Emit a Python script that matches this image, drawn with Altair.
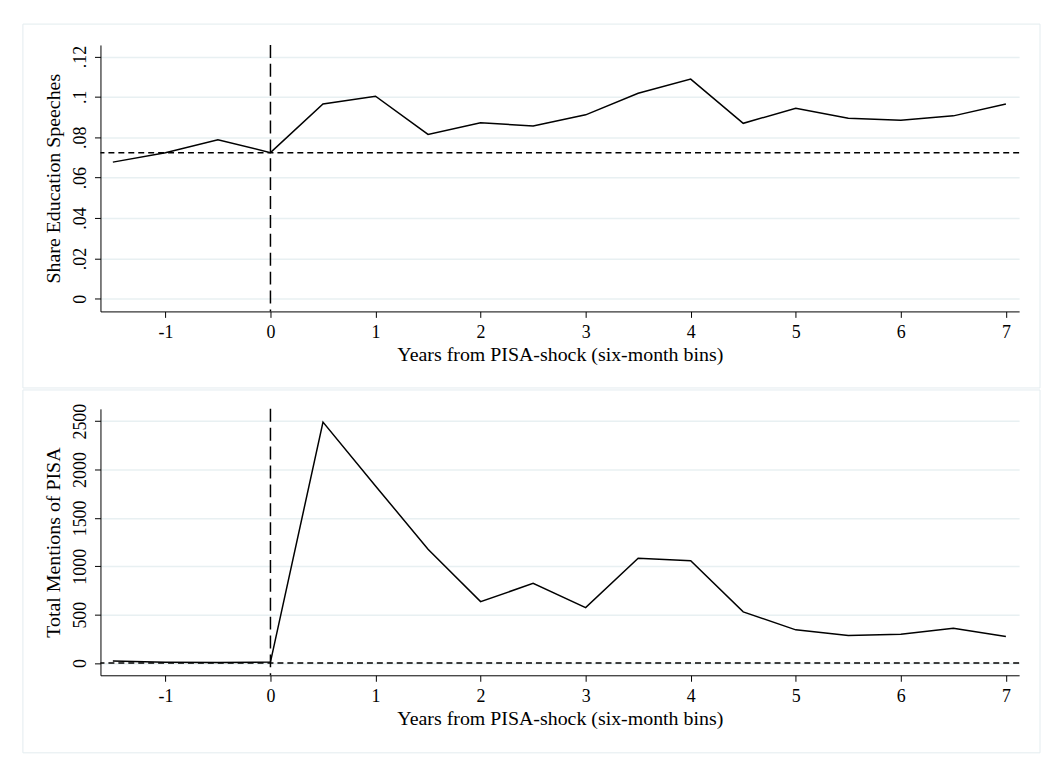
import altair as alt
import pandas as pd

# ---- data ----
years = [-1.5, -1, -0.5, 0, 0.5, 1, 1.5, 2, 2.5, 3, 3.5, 4, 4.5, 5, 5.5, 6, 6.5, 7]
share_edu = [0.0677, 0.0723, 0.0788, 0.0724, 0.0965, 0.1003, 0.0814, 0.0872, 0.0856,
             0.0911, 0.1018, 0.1088, 0.0869, 0.0944, 0.0894, 0.0884, 0.0906, 0.0965]
pisa_mentions = [20, 8, 5, 10, 2490, 1830, 1177, 635, 823, 573, 1084, 1057, 529,
                 343, 285, 298, 360, 275]
share_ref = [0.0723]
mentions_ref = [0]
shock_year = [0]
x_ticks = [-1, 0, 1, 2, 3, 4, 5, 6, 7]
share_ticks = [0, 0.02, 0.04, 0.06, 0.08, 0.1, 0.12]
mention_ticks = [0, 500, 1000, 1500, 2000, 2500]

df = pd.DataFrame({"year": years, "share": share_edu, "mentions": pisa_mentions})

X_TITLE = "Years from PISA-shock (six-month bins)"
X_DOMAIN = [-1.618, 7.126]
W, H = 924, 268
FRAME = "#e3ecef"


def panel(ycol, ytitle, ydomain, yticks, ylabel_expr, ref, fy, fy2):
    xscale = alt.Scale(domain=X_DOMAIN, nice=False, zero=False)
    yscale = alt.Scale(domain=ydomain, nice=False, zero=False)
    xaxis = alt.Axis(values=x_ticks, title=X_TITLE, labelExpr="'' + datum.value")
    yaxis = alt.Axis(values=yticks, title=ytitle, labelExpr=ylabel_expr)

    frame = alt.Chart(alt.Data(values=[{}])).mark_rect(
        filled=False, color=FRAME, strokeWidth=1
    ).encode(
        x=alt.value(-78), x2=alt.value(W + 21),
        y=alt.value(fy), y2=alt.value(fy2),
    )
    line = alt.Chart(df).mark_line(color="black", strokeWidth=1.5).encode(
        x=alt.X("year:Q", scale=xscale, axis=xaxis),
        y=alt.Y(f"{ycol}:Q", scale=yscale, axis=yaxis),
    )
    hrule = alt.Chart(alt.Data(values=[{}])).mark_rule(
        color="black", strokeWidth=1.5, strokeDash=[6, 4]
    ).encode(y=alt.datum(ref[0]))
    vrule = alt.Chart(alt.Data(values=[{}])).mark_rule(
        color="black", strokeWidth=1.5, strokeDash=[13, 6]
    ).encode(x=alt.datum(shock_year[0]))
    return alt.layer(frame, hrule, vrule, line).properties(width=W, height=H)


top = panel(
    "share", "Share Education Speeches", [-0.0062, 0.1257], share_ticks,
    "datum.value == 0 ? '0' : substring(format(datum.value, '.2~f'), 1)",
    share_ref, -21, H + 77,
)
bottom = panel(
    "mentions", "Total Mentions of PISA", [-126.5, 2627], mention_ticks,
    "'' + datum.value",
    mentions_ref, -19, H + 78,
)

chart = alt.vconcat(top, bottom, spacing=98, bounds="flush").properties(
    padding={"left": 14, "top": 13, "right": 0, "bottom": 0},
    background="white",
).configure_view(stroke=None).configure_axis(
    labelFont="Liberation Serif", titleFont="Liberation Serif",
    labelFontSize=18, titleFontSize=20, titleFontWeight="normal",
    labelColor="black", titleColor="black",
    domainColor="black", tickColor="black", domainWidth=1, tickWidth=1,
    tickSize=6, gridColor="#e8f0f2", gridWidth=1.5,
).configure_axisX(
    grid=False, labelPadding=6, titlePadding=3,
).configure_axisY(
    grid=True, labelAngle=270, labelAlign="center", labelBaseline="bottom",
    labelPadding=5, titlePadding=8,
)

chart.save("out.html", embed_options={"renderer": "svg", "actions": False})
